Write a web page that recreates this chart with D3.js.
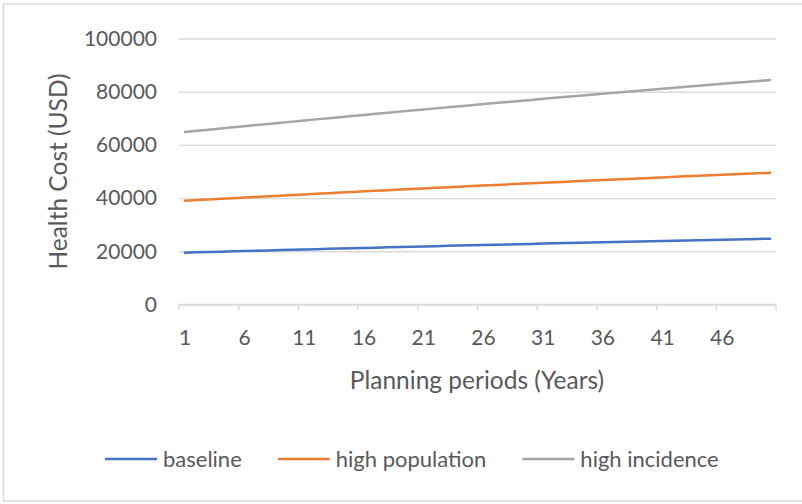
<!DOCTYPE html>
<html>
<head>
<meta charset="utf-8">
<script src="https://cdn.jsdelivr.net/npm/d3@7/dist/d3.min.js"></script>
<style>
  body { margin: 0; background: #fff; }
  svg text { font-family: Lato, "Open Sans", sans-serif; fill: #595959; }
</style>
</head>
<body>
<svg id="chart" width="802" height="504"></svg>
<script>
// Planning periods (years 1..50)
const periods = d3.range(1, 51);

// Health cost per scenario (USD)
const baseline = [
  19500, 19622, 19743, 19864, 19984, 20104, 20223, 20341, 20459, 20576,
  20692, 20808, 20923, 21038, 21152, 21265, 21378, 21490, 21601, 21712,
  21822, 21932, 22041, 22149, 22257, 22364, 22470, 22576, 22681, 22786,
  22890, 22993, 23096, 23198, 23299, 23400, 23500, 23599, 23698, 23796,
  23894, 23991, 24087, 24182, 24277, 24371, 24464, 24557, 24650, 24742
];
const highPopulation = [
  39000, 39244, 39486, 39728, 39968, 40208, 40446, 40682, 40918, 41152,
  41384, 41616, 41846, 42076, 42304, 42530, 42756, 42980, 43202, 43424,
  43644, 43864, 44082, 44298, 44514, 44728, 44940, 45152, 45362, 45572,
  45780, 45986, 46192, 46396, 46598, 46800, 47000, 47198, 47396, 47592,
  47788, 47982, 48174, 48364, 48554, 48742, 48928, 49114, 49300, 49484
];
const highIncidence = [
  64850, 65290, 65728, 66165, 66600, 67033, 67464, 67894, 68322, 68749,
  69173, 69596, 70017, 70437, 70855, 71271, 71685, 72098, 72509, 72918,
  73325, 73731, 74135, 74538, 74939, 75338, 75735, 76131, 76524, 76917,
  77307, 77696, 78083, 78468, 78852, 79234, 79614, 79992, 80369, 80744,
  81118, 81489, 81859, 82228, 82594, 82959, 83322, 83684, 84043, 84401
];

const yTicks = [0, 20000, 40000, 60000, 80000, 100000];
const xTickLabels = [1, 6, 11, 16, 21, 26, 31, 36, 41, 46];

const seriesNames = ["baseline", "high population", "high incidence"];
const seriesColors = ["#4472C4", "#ED7D31", "#A5A5A5"];
const seriesValues = [baseline, highPopulation, highIncidence];

const svg = d3.select("#chart");
const plot = { left: 179, right: 776, top: 38.5, bottom: 304.5 };

// chart frame
svg.append("rect")
  .attr("x", 3.5).attr("y", 4).attr("width", 820).attr("height", 497)
  .attr("fill", "#fff").attr("stroke", "#d9d9d9").attr("stroke-width", 1.5);

const x = d3.scaleBand().domain(periods).range([plot.left, plot.right]).padding(0);
const y = d3.scaleLinear().domain([0, 100000]).range([plot.bottom, plot.top]);

// horizontal gridlines + y labels
const yAxis = svg.append("g")
  .attr("transform", `translate(${plot.left},0)`)
  .call(d3.axisLeft(y).tickValues(yTicks).tickSize(-(plot.right - plot.left)).tickPadding(22).tickFormat(d3.format("d")));
yAxis.select(".domain").remove();
yAxis.selectAll(".tick line").attr("stroke", "#d9d9d9").attr("stroke-width", 1.4);
yAxis.selectAll(".tick text").attr("font-size", 21).attr("fill", "#595959")
  .style("font-family", "Lato, sans-serif");

// x axis: line at zero, ticks every 5 categories at band boundaries
const xAxisG = svg.append("g").attr("transform", `translate(0,${plot.bottom})`);
const boundaries = d3.range(0, periods.length + 1, 5);
xAxisG.append("line")
  .attr("x1", plot.left).attr("x2", plot.right)
  .attr("stroke", "#d9d9d9").attr("stroke-width", 1.4);
xAxisG.selectAll("line.tk").data(boundaries).enter().append("line")
  .attr("class", "tk")
  .attr("x1", i => plot.left + i * x.bandwidth())
  .attr("x2", i => plot.left + i * x.bandwidth())
  .attr("y1", 0).attr("y2", 6)
  .attr("stroke", "#d9d9d9").attr("stroke-width", 1.4);
xAxisG.selectAll("text").data(xTickLabels).enter().append("text")
  .attr("x", d => x(d) + x.bandwidth() / 2)
  .attr("y", 33)
  .attr("dy", "0.35em")
  .attr("text-anchor", "middle")
  .attr("font-size", 21)
  .text(d => d);

// series lines
const line = d3.line()
  .x((d, i) => x(periods[i]) + x.bandwidth() / 2)
  .y(d => y(d));
seriesValues.forEach((vals, k) => {
  svg.append("path")
    .datum(vals)
    .attr("fill", "none")
    .attr("stroke", seriesColors[k])
    .attr("stroke-width", 2.5)
    .attr("stroke-linejoin", "round")
    .attr("stroke-linecap", "round")
    .attr("d", line);
});

// axis titles
svg.append("text")
  .attr("transform", `translate(58,${(plot.top + plot.bottom) / 2}) rotate(-90)`)
  .attr("text-anchor", "middle").attr("dy", "0.35em")
  .attr("font-size", 24.5)
  .text("Health Cost (USD)");
svg.append("text")
  .attr("x", 477).attr("y", 380)
  .attr("text-anchor", "middle").attr("dy", "0.35em")
  .attr("font-size", 24.5)
  .text("Planning periods (Years)");

// legend
const legend = svg.append("g");
let lx = 105;
const ly = 459;
seriesNames.forEach((name, k) => {
  legend.append("line")
    .attr("x1", lx).attr("x2", lx + 52).attr("y1", ly).attr("y2", ly)
    .attr("stroke", seriesColors[k]).attr("stroke-width", 2.5);
  const t = legend.append("text")
    .attr("x", lx + 58).attr("y", ly).attr("dy", "0.35em")
    .attr("font-size", 22)
    .text(name);
  lx += 58 + t.node().getComputedTextLength() + 36;
});
</script>
</body>
</html>
